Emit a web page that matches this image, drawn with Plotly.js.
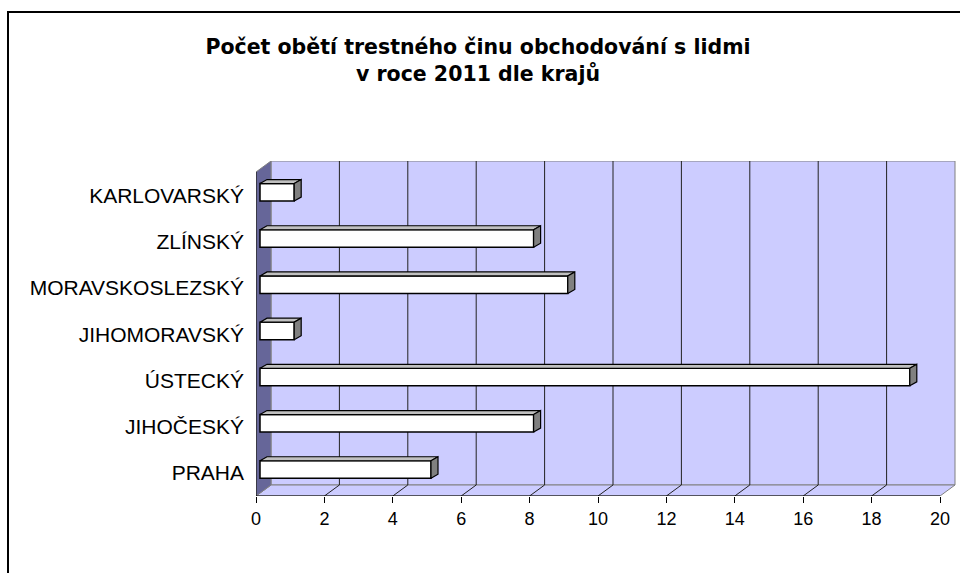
<!DOCTYPE html>
<html><head><meta charset="utf-8">
<script src="https://cdn.plot.ly/plotly-3.0.1.min.js"></script>
<style>
body{margin:0;background:#fff;}
#chart{position:absolute;left:0;top:0;width:960px;height:573px;}
#frame{position:absolute;left:7px;top:11px;width:1000px;height:600px;border-left:2px solid #000;border-top:2px solid #000;pointer-events:none;}
</style>
</head><body>
<div id="chart"></div><div id="frame"></div>
<script>
// ---- data ----
const categories = ['PRAHA', 'JIHOČESKÝ', 'ÚSTECKÝ', 'JIHOMORAVSKÝ', 'MORAVSKOSLEZSKÝ', 'ZLÍNSKÝ', 'KARLOVARSKÝ'];
const victims = [5, 8, 19, 1, 9, 8, 1];
const xTickVals = [0, 2, 4, 6, 8, 10, 12, 14, 16, 18, 20];
const titleText = 'Počet obětí trestného činu obchodování s lidmi<br>v roce 2011 dle krajů';

// ---- geometry (layout, in px) ----
const W = 960, H = 573;
const M = {l: 256, r: 4, t: 161, b: 77};
const plotW = W - M.l - M.r, plotH = H - M.t - M.b;
const xMax = xTickVals[xTickVals.length - 1];
const unitX = 684 / xMax;        // px per value unit on the front axis
const catPx = 46.2;              // px per category
const xRange = [0, plotW / unitX];
const yRange = [-0.5, -0.5 + plotH / catPx];
const dX = 15 / unitX, dY = 11 / catPx;          // chart depth
const bdX = 7 / unitX, bdY = 4 / catPx;          // bar depth
const barBase = 4 / unitX, barShift = 3.4 / catPx, barW = 17.5 / catPx;
const yFloor = yRange[0], yTop = yRange[1];

const font = '"Liberation Sans", Arial, sans-serif';
const titleFont = '"DejaVu Sans", "Liberation Sans", Arial, sans-serif';
const idx = categories.map((c, i) => i);

// ---- walls / floor / grid as shapes ----
const shapes = [];
shapes.push({type: 'rect', layer: 'below', xref: 'x', yref: 'y', x0: dX, x1: xMax + dX, y0: yFloor + dY, y1: yTop,
  fillcolor: '#CCCCFF', line: {color: '#808080', width: 1}});
shapes.push({type: 'path', layer: 'below', xref: 'x', yref: 'y',
  path: `M0,${yFloor} L${xMax},${yFloor} L${xMax + dX},${yFloor + dY} L${dX},${yFloor + dY} Z`,
  fillcolor: '#CCCCFF', line: {color: '#808080', width: 1}});
shapes.push({type: 'path', layer: 'below', xref: 'x', yref: 'y',
  path: `M0,${yFloor} L${dX},${yFloor + dY} L${dX},${yTop} L0,${yTop - dY} Z`,
  fillcolor: '#666699', line: {color: '#808080', width: 1}});
xTickVals.forEach(k => {
  if (k > 0 && k < xMax) {
    shapes.push({type: 'line', layer: 'below', xref: 'x', yref: 'y', x0: k + dX, x1: k + dX, y0: yFloor + dY, y1: yTop,
      line: {color: '#222', width: 1}});
    shapes.push({type: 'line', layer: 'below', xref: 'x', yref: 'y', x0: k, x1: k + dX, y0: yFloor, y1: yFloor + dY,
      line: {color: '#222', width: 1}});
  }
});
shapes.push({type: 'line', layer: 'below', xref: 'x', yref: 'y', x0: 0, x1: xMax, y0: yFloor, y1: yFloor, line: {color: '#000', width: 1}});
shapes.push({type: 'line', layer: 'below', xref: 'x', yref: 'y', x0: 0, x1: 0, y0: yFloor, y1: yTop - dY, line: {color: '#000', width: 1}});
for (let i = 0; i <= categories.length; i++) {
  shapes.push({type: 'line', layer: 'below', xref: 'x', yref: 'y', xsizemode: 'pixel', xanchor: 0, x0: -6, x1: 0,
    y0: i - 0.5, y1: i - 0.5, line: {color: '#000', width: 1}});
}

// ---- bars ----
const front = {
  type: 'bar', orientation: 'h', y: idx, x: victims, base: barBase,
  width: barW, offset: barShift - barW / 2,
  marker: {color: '#FFFFFF', line: {color: '#000', width: 1.5}},
  hoverinfo: 'skip', showlegend: false
};
const topX = [], topY = [], sideX = [], sideY = [];
victims.forEach((v, i) => {
  const yb = i + barShift - barW / 2, yt = i + barShift + barW / 2;
  const xl = barBase, xr = barBase + v;
  topX.push(xl, xr, xr + bdX, xl + bdX, xl, null);
  topY.push(yt, yt, yt + bdY, yt + bdY, yt, null);
  sideX.push(xr, xr, xr + bdX, xr + bdX, xr, null);
  sideY.push(yb, yt, yt + bdY, yb + bdY, yb, null);
});
const topFace = {type: 'scatter', mode: 'lines', x: topX, y: topY, fill: 'toself', fillcolor: '#C0C0C0',
  line: {color: '#000', width: 1.2}, hoverinfo: 'skip', showlegend: false, connectgaps: false};
const sideFace = {type: 'scatter', mode: 'lines', x: sideX, y: sideY, fill: 'toself', fillcolor: '#808080',
  line: {color: '#000', width: 1.2}, hoverinfo: 'skip', showlegend: false, connectgaps: false};

const layout = {
  width: W, height: H, margin: M,
  paper_bgcolor: 'rgba(0,0,0,0)', plot_bgcolor: 'rgba(0,0,0,0)',
  showlegend: false,
  title: {text: titleText, font: {family: titleFont, size: 20.5, color: '#000', weight: 'bold'},
    xref: 'container', x: 478 / W, xanchor: 'center', yref: 'container', y: 1 - 54 / H, yanchor: 'middle'},
  xaxis: {range: xRange, tickvals: xTickVals, ticks: 'outside', ticklen: 6, tickcolor: '#000', tickwidth: 1,
    tickfont: {family: font, size: 18, color: '#000'}, showgrid: false, zeroline: false, showline: false, fixedrange: true},
  yaxis: {range: yRange, tickvals: idx, ticktext: categories, ticks: '', ticklabelstandoff: 11,
    tickfont: {family: font, size: 21, color: '#000'}, showgrid: false, zeroline: false, showline: false, fixedrange: true},
  shapes: shapes,
  bargap: 0
};
Plotly.newPlot('chart', [front, topFace, sideFace], layout, {displayModeBar: false, staticPlot: true});
</script>
</body></html>
